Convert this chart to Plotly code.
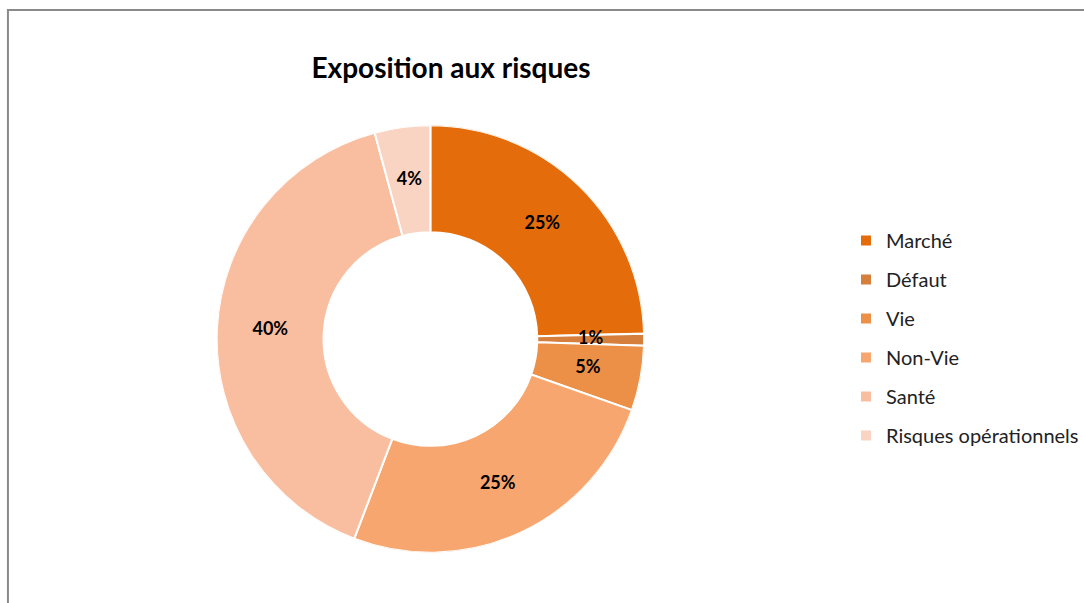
import numpy as np
import plotly.graph_objects as go

labels = ["Marché", "Défaut", "Vie", "Non-Vie", "Santé", "Risques opérationnels"]
values = [24.6, 0.9, 4.9, 25.4, 40.0, 4.2]
colors = ["#E46C0A", "#D67F3C", "#EC9047", "#F6A66E", "#F8BE9F", "#F9D4C3"]

W, H = 1084, 603
cx, cy, R = 434, 339, 215.5
HOLE = 0.5

dom = dict(x=[(cx - R) / W, (cx + R) / W], y=[(H - cy - R) / H, (H - cy + R) / H])

vals = np.array(values, dtype=float)
frac = vals / vals.sum()
mid_theta = (np.cumsum(frac) - frac / 2) * 360
width_theta = frac * 360

fig = go.Figure()
# donut slices as polar bars on a ring from HOLE to 1
for lab, col, th, wd in zip(labels, colors, mid_theta, width_theta):
    fig.add_trace(go.Barpolar(
        r=[1 - HOLE], base=[HOLE], theta=[th], width=[wd], name=lab, legendgroup=lab,
        marker=dict(color=col, line=dict(color="white", width=2)),
        hovertemplate=f"{lab}<extra></extra>",
    ))

# data labels at the middle of the ring
pct_text = [f"<b>{round(f * 100):.0f}%</b>" for f in frac]
fig.add_trace(go.Scatterpolar(
    r=[(1 + HOLE) / 2] * len(values), theta=mid_theta, mode="text", text=pct_text,
    textfont=dict(family="Lato", size=18, color="black"),
    showlegend=False, hoverinfo="skip",
))

fig.update_layout(
    width=W, height=H,
    margin=dict(l=0, r=0, t=0, b=0),
    paper_bgcolor="white",
    polar=dict(
        domain=dom, bgcolor="rgba(0,0,0,0)", bargap=0,
        radialaxis=dict(range=[0, 1], visible=False),
        angularaxis=dict(rotation=90, direction="clockwise", visible=False),
    ),
    title=dict(text="<b>Exposition aux risques</b>", x=451 / W, xanchor="center",
               y=1 - 68 / H, yanchor="middle",
               font=dict(family="Lato", size=28, color="black")),
    legend=dict(x=0.787, y=1 - 221 / H, xanchor="left", yanchor="top",
                font=dict(family="Lato", size=20, color="#222"),
                tracegroupgap=10, bgcolor="rgba(0,0,0,0)"),
    shapes=[dict(type="rect", xref="paper", yref="paper",
                 x0=8 / W, x1=1.02, y0=-0.02, y1=1 - 10 / H,
                 line=dict(color="#8a8a8a", width=2))],
)

fig.write_html("out.html", config={"displayModeBar": False},
               post_script="document.body.style.margin='0px';")
